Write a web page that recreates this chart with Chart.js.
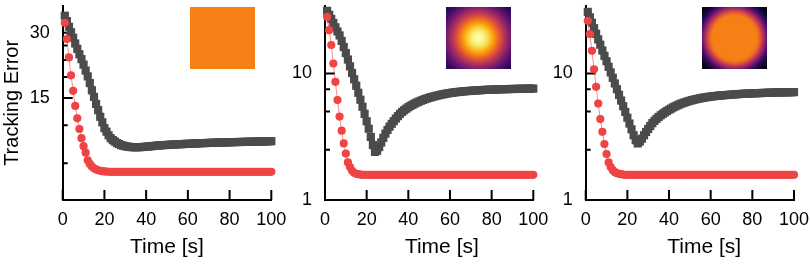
<!DOCTYPE html>
<html>
<head>
<meta charset="utf-8">
<script src="https://cdn.jsdelivr.net/npm/chart.js@4.4.1/dist/chart.umd.min.js"></script>
<style>
html,body{margin:0;padding:0;background:#fff;}
#wrap{position:relative;width:810px;height:268px;overflow:hidden;}
.pane{position:absolute;top:0;height:268px;}
</style>
</head>
<body>
<div id="wrap">
  <div class="pane" style="left:0;width:290px"><canvas id="c1"></canvas></div>
  <div class="pane" style="left:265px;width:290px"><canvas id="c2"></canvas></div>
  <div class="pane" style="left:525px;width:285px"><canvas id="c3"></canvas></div>
</div>
<script>
// time steps (s)
const time = [1,2,3,4,5,6,7,8,9,10,11,12,13,14,15,16,17,18,19,20,
  21,22,23,24,25,26,27,28,29,30,31,32,33,34,35,36,37,38,39,40,
  41,42,43,44,45,46,47,48,49,50,51,52,53,54,55,56,57,58,59,60,
  61,62,63,64,65,66,67,68,69,70,71,72,73,74,75,76,77,78,79,80,
  81,82,83,84,85,86,87,88,89,90,91,92,93,94,95,96,97,98,99,100]

// panel 1 (uniform field)
const red1 = [33.4,28.1,23.1,19.1,16.2,13.8,12.1,10.8,9.8,9.0,8.4,7.75,7.45,7.25,7.12,7.03,6.97,6.93,6.9,6.88,
  6.87,6.86,6.85,6.85,6.85,6.85,6.85,6.85,6.85,6.85,6.85,6.85,6.85,6.85,6.85,6.85,6.85,6.85,6.85,6.85,
  6.85,6.85,6.85,6.85,6.85,6.85,6.85,6.85,6.85,6.85,6.85,6.85,6.85,6.85,6.85,6.85,6.85,6.85,6.85,6.85,
  6.85,6.85,6.85,6.85,6.85,6.85,6.85,6.85,6.85,6.85,6.85,6.85,6.85,6.85,6.85,6.85,6.85,6.85,6.85,6.85,
  6.85,6.85,6.85,6.85,6.85,6.85,6.85,6.85,6.85,6.85,6.85,6.85,6.85,6.85,6.85,6.85,6.85,6.85,6.85,6.85]
const gray1 = [36.0,34.0,32.0,30.2,28.5,26.8,25.3,23.9,22.7,21.4,20.1,18.9,17.6,16.3,15.2,14.1,13.2,12.3,11.6,10.9,
  10.5,10.1,9.8,9.6,9.45,9.3,9.2,9.1,9.05,9.0,8.96,8.93,8.91,8.9,8.9,8.9,8.91,8.92,8.93,8.95,
  8.97,8.99,9.01,9.03,9.05,9.07,9.08,9.1,9.11,9.12,9.13,9.15,9.16,9.17,9.18,9.19,9.2,9.21,9.22,9.23,
  9.24,9.25,9.26,9.27,9.28,9.29,9.3,9.3,9.31,9.32,9.33,9.33,9.34,9.35,9.35,9.36,9.37,9.37,9.38,9.38,
  9.39,9.4,9.4,9.41,9.41,9.42,9.42,9.43,9.43,9.44,9.44,9.45,9.45,9.46,9.46,9.47,9.47,9.48,9.48,9.49]

// panel 2 (gaussian field)
const red2 = [28.0,22.0,16.8,12.0,8.6,6.17,4.57,3.53,2.8,2.33,1.98,1.82,1.7,1.64,1.61,1.6,1.59,1.58,1.58,1.58,
  1.58,1.58,1.58,1.58,1.58,1.58,1.58,1.58,1.58,1.58,1.58,1.58,1.58,1.58,1.58,1.58,1.58,1.58,1.58,1.58,
  1.58,1.58,1.58,1.58,1.58,1.58,1.58,1.58,1.58,1.58,1.58,1.58,1.58,1.58,1.58,1.58,1.58,1.58,1.58,1.58,
  1.58,1.58,1.58,1.58,1.58,1.58,1.58,1.58,1.58,1.58,1.58,1.58,1.58,1.58,1.58,1.58,1.58,1.58,1.58,1.58,
  1.58,1.58,1.58,1.58,1.58,1.58,1.58,1.58,1.58,1.58,1.58,1.58,1.58,1.58,1.58,1.58,1.58,1.58,1.58,1.58]
const gray2 = [31.3,29.1,27.0,25.1,23.2,21.5,20.0,18.1,16.2,14.5,12.9,11.4,10.1,9.0,8.0,7.04,6.2,5.46,4.8,4.19,
  3.66,3.15,2.72,2.4,2.45,2.62,2.85,3.1,3.35,3.58,3.8,4.0,4.2,4.4,4.6,4.8,4.97,5.12,5.27,5.41,
  5.54,5.66,5.78,5.89,5.99,6.09,6.18,6.27,6.35,6.43,6.5,6.57,6.64,6.7,6.76,6.82,6.87,6.92,6.97,7.01,
  7.05,7.09,7.12,7.15,7.18,7.21,7.24,7.26,7.28,7.3,7.32,7.34,7.36,7.38,7.39,7.41,7.42,7.43,7.45,7.46,
  7.47,7.48,7.49,7.5,7.51,7.52,7.53,7.53,7.54,7.55,7.55,7.56,7.57,7.57,7.58,7.58,7.59,7.59,7.6,7.6]

// panel 3 (flat-top field)
const red3 = [26.1,20.5,15.1,10.8,7.85,5.79,4.36,3.46,2.77,2.31,1.98,1.82,1.72,1.66,1.63,1.61,1.6,1.59,1.58,1.58,
  1.58,1.58,1.58,1.58,1.58,1.58,1.58,1.58,1.58,1.58,1.58,1.58,1.58,1.58,1.58,1.58,1.58,1.58,1.58,1.58,
  1.58,1.58,1.58,1.58,1.58,1.58,1.58,1.58,1.58,1.58,1.58,1.58,1.58,1.58,1.58,1.58,1.58,1.58,1.58,1.58,
  1.58,1.58,1.58,1.58,1.58,1.58,1.58,1.58,1.58,1.58,1.58,1.58,1.58,1.58,1.58,1.58,1.58,1.58,1.58,1.58,
  1.58,1.58,1.58,1.58,1.58,1.58,1.58,1.58,1.58,1.58,1.58,1.58,1.58,1.58,1.58,1.58,1.58,1.58,1.58,1.58]
const gray3 = [30.7,27.8,25.2,22.8,20.6,18.6,16.9,15.2,13.8,12.5,11.3,10.2,9.25,8.34,7.52,6.78,6.11,5.51,4.97,4.47,
  4.02,3.62,3.25,2.97,2.8,2.9,3.05,3.25,3.45,3.65,3.85,4.05,4.22,4.38,4.53,4.67,4.8,4.93,5.05,5.17,
  5.28,5.4,5.5,5.6,5.7,5.79,5.87,5.95,6.02,6.09,6.15,6.21,6.27,6.32,6.37,6.42,6.46,6.5,6.54,6.57,
  6.6,6.63,6.66,6.69,6.71,6.73,6.75,6.77,6.79,6.81,6.83,6.85,6.87,6.89,6.9,6.92,6.93,6.94,6.96,6.97,
  6.98,6.99,7.0,7.01,7.02,7.03,7.04,7.05,7.06,7.07,7.07,7.08,7.09,7.09,7.1,7.1,7.11,7.11,7.12,7.12]

const xTicks = [0,20,40,60,80,100]
const yTicks1 = [7.5,11.25,15,18.75,22.5,26.25,30]
const yLabels1 = [15,30]
const yTicks23 = [1,2.5,5,7.5,10]
const yLabels23 = [1,10]

Chart.defaults.font.family = '"Liberation Sans", Arial, sans-serif'
Chart.defaults.color = '#000'

const RED = '#ef4444'
const GRAY = '#4b4b4b'

// inferno colormap samples
const INF = [[0,0,4],[22,11,57],[66,10,104],[106,23,110],[147,38,103],[188,55,84],
  [221,81,58],[243,120,25],[252,165,10],[246,215,70],[252,255,164]]
function inferno(f){
  f = Math.max(0, Math.min(1, f))
  const p = f*10, i = Math.min(9, Math.floor(p)), u = p-i
  return INF[i].map((c,k)=>Math.round(c+(INF[i+1][k]-c)*u))
}
function fieldImage(w,h,fn){
  const cv = document.createElement('canvas'); cv.width=w; cv.height=h
  const g = cv.getContext('2d'), img = g.createImageData(w,h)
  for(let j=0;j<h;j++) for(let i=0;i<w;i++){
    const r = Math.hypot(i+0.5-w/2, j+0.5-h/2)
    const c = inferno(fn(r)), o=(j*w+i)*4
    img.data[o]=c[0]; img.data[o+1]=c[1]; img.data[o+2]=c[2]; img.data[o+3]=255
  }
  g.putImageData(img,0,0)
  return cv
}
const fields = {
  flat: r => 0.72,
  gauss: r => Math.exp(-r*r/(2*21.5*21.5)),
  disk: r => r<=21 ? 0.72 : 0.72*Math.exp(-(r-21)*(r-21)/(2*8.5*8.5))
}

const inset = {
  id:'inset',
  afterDraw(chart, args, o){
    if(!o.kind) return
    if(!o._img) o._img = fieldImage(o.w, o.h, fields[o.kind])
    chart.ctx.drawImage(o._img, o.x, o.y)
  }
}

const inTicks = {
  id:'inTicks',
  beforeDatasetsDraw(chart, args, o){
    const {ctx, chartArea:a, scales:{x,y}} = chart
    ctx.save(); ctx.strokeStyle='#000'; ctx.lineWidth=2
    ctx.beginPath()
    x.ticks.forEach(t=>{ const px=x.getPixelForValue(t.value); ctx.moveTo(px,a.bottom); ctx.lineTo(px,a.bottom-10) })
    y.ticks.forEach(t=>{
      const py=y.getPixelForValue(t.value), len=(o.major||[]).includes(t.value)?10:5
      ctx.moveTo(a.left,py); ctx.lineTo(a.left+len,py)
    })
    ctx.stroke(); ctx.restore()
  }
}

const xLabel = {
  id:'xLabel',
  afterDraw(chart, args, o){
    const {ctx, chartArea:a} = chart
    ctx.save(); ctx.font='21px "Liberation Sans", Arial, sans-serif'; ctx.fillStyle='#000'
    ctx.textAlign='center'; ctx.textBaseline='middle'
    ctx.fillText(o.text, (a.left+a.right)/2 + o.dx, o.y)
    ctx.restore()
  }
}

function pts(vals){ return time.map((t,i)=>({x:t, y:vals[i]})) }

function makePanel(id, p){
  return new Chart(document.getElementById(id), {
    type:'scatter',
    data:{datasets:[
      {data:pts(p.red), showLine:true, borderColor:'rgba(239,68,68,0.6)', borderWidth:1,
       pointStyle:'circle', pointRadius:4.1, pointBackgroundColor:RED, pointBorderWidth:0, clip:false},
      {data:pts(p.gray), showLine:false, pointStyle:'rect', pointRadius:5.8,
       pointBackgroundColor:GRAY, pointBorderWidth:0, clip:false}
    ]},
    options:{
      responsive:true, maintainAspectRatio:false, animation:false,
      layout:{padding:{left:0, top:5, right:p.right, bottom:0}},
      plugins:{legend:{display:false}, tooltip:{enabled:false},
        inTicks:{major:p.major}, xLabel:{text:'Time [s]', dx:p.dx, y:247.5}, inset:p.inset},
      scales:{
        x:{type:'linear', min:0, max:100,
          grid:{display:false, drawTicks:false}, border:{display:true, color:'#000', width:2},
          afterBuildTicks:s=>{ s.ticks = xTicks.map(v=>({value:v})) },
          ticks:{font:{size:18}, padding:9, maxRotation:0, autoSkip:false},
          afterFit:s=>{ s.height=68; s.paddingLeft=0; s.paddingRight=0; s.paddingTop=0; s.paddingBottom=0 }
        },
        y:{type:'logarithmic', min:p.ymin, max:p.ymax,
          grid:{display:false, drawTicks:false}, border:{display:true, color:'#000', width:2},
          afterBuildTicks:s=>{ s.ticks = p.yticks.map(v=>({value:v})) },
          ticks:{font:{size:18}, padding:13, autoSkip:false,
            callback:v=>p.ylabels.includes(v) ? String(v) : ''},
          title:{display:!!p.ytitle, text:p.ytitle||'', font:{size:20}, padding:0},
          afterFit:s=>{ s.width=p.yw; s.paddingLeft=0; s.paddingRight=0; s.paddingTop=0; s.paddingBottom=0 }
        }
      }
    },
    plugins:[inTicks, xLabel, inset]
  })
}

makePanel('c1', {red:red1, gray:gray1, ymin:5.08, ymax:40, yticks:yTicks1, ylabels:yLabels1, major:[15,30],
  ytitle:'Tracking Error', yw:62.7, right:18.7, dx:0, inset:{kind:'flat', x:190, y:7, w:65, h:62}})
makePanel('c2', {red:red2, gray:gray2, ymin:1, ymax:34.3, yticks:yTicks23, ylabels:yLabels23, major:[10],
  yw:60, right:21.7, dx:12.7, inset:{kind:'gauss', x:181, y:7, w:65, h:62}})
makePanel('c3', {red:red3, gray:gray3, ymin:1, ymax:34.3, yticks:yTicks23, ylabels:yLabels23, major:[10],
  yw:60.7, right:16, dx:14.3, inset:{kind:'disk', x:177, y:7, w:65, h:62}})
</script>
</body>
</html>
